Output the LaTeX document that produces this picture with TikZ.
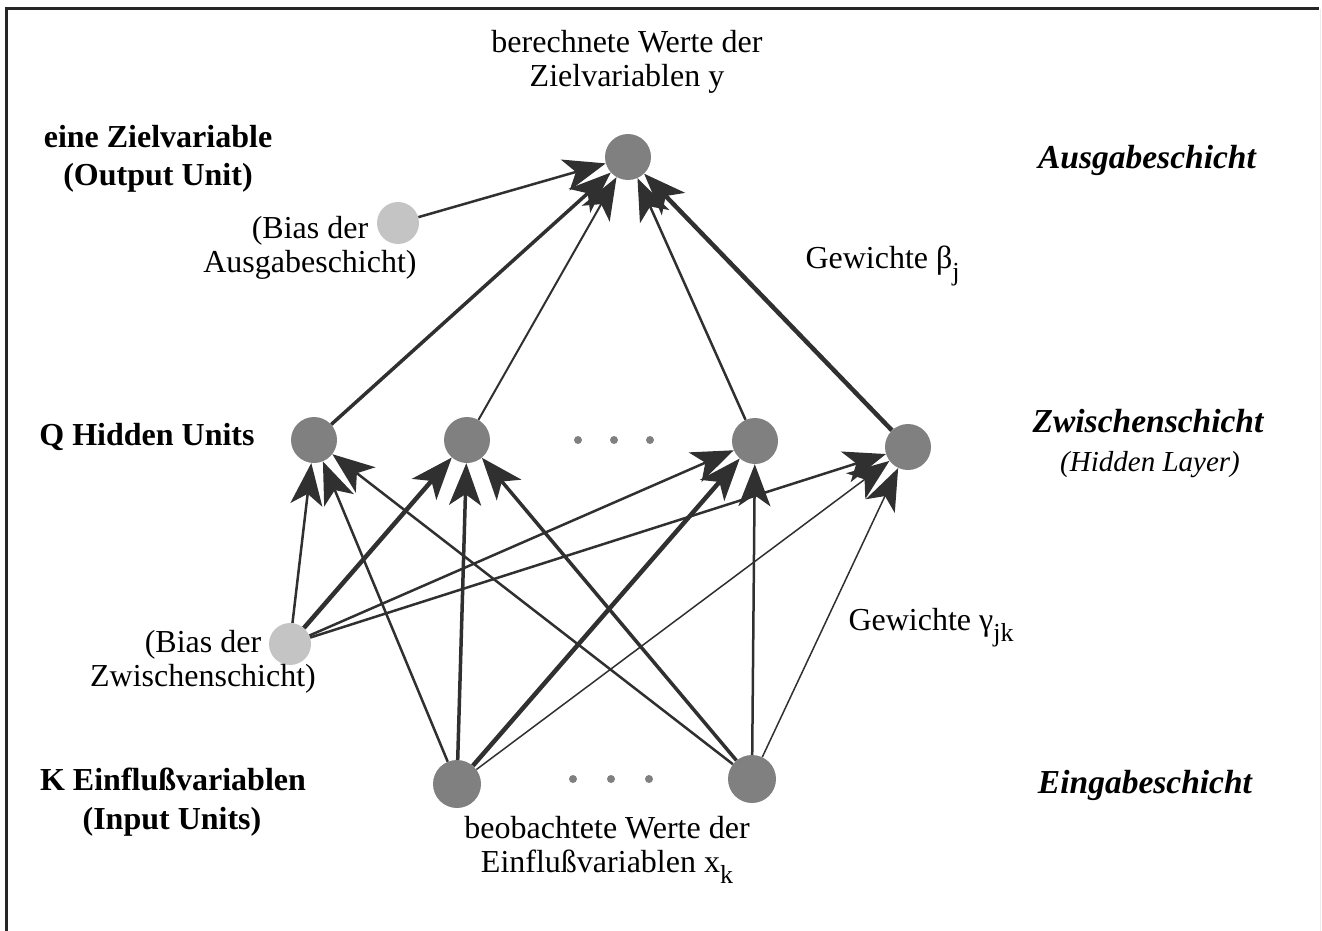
\documentclass[tikz,border=0pt]{standalone}
\usepackage{fontspec}
\setmainfont{Liberation Serif}
\usetikzlibrary{arrows.meta}
\definecolor{nodedark}{HTML}{808080}
\definecolor{nodelight}{HTML}{C4C4C4}
\definecolor{edgecol}{HTML}{303030}
\newcommand{\sub}[1]{\raisebox{-0.35em}{\fontsize{26}{26}\selectfont #1}}
\begin{document}
\begin{tikzpicture}[x=1pt,y=-1pt,
  unit/.style={circle,fill=nodedark,inner sep=0pt,minimum size=46pt},
  bias/.style={circle,fill=nodelight,inner sep=0pt,minimum size=42pt},
  dotn/.style={circle,fill=nodedark,inner sep=0pt,minimum size=8pt},
  lbl/.style={align=center,font=\fontsize{32}{34}\selectfont},
  blbl/.style={align=center,font=\fontsize{32}{38}\selectfont\bfseries},
  bilbl/.style={align=center,font=\fontsize{33.5}{34}\selectfont\bfseries\itshape},
  conn/.style={draw=edgecol,-{Stealth[length=42pt,width=32pt,inset=11pt]}},
  thin1/.style={conn,line width=1.5pt},
  med/.style={conn,line width=2.5pt},
  thk/.style={conn,line width=3.5pt},
  vthk/.style={conn,line width=4.5pt}
]
\useasboundingbox (0,0) rectangle (1322,931);
% frame
\draw[line width=3pt,black!85] (6,931) -- (6,9) -- (1319,9);
\draw[line width=1pt,gray!15] (1320,9) -- (1320,931);

% units
\node[unit] (O) at (628,157) {};
\node[bias] (Bo) at (398,223) {};
\node[unit] (H1) at (314,440) {};
\node[unit] (H2) at (467,440) {};
\node[unit] (H3) at (755,441) {};
\node[unit] (H4) at (908,447) {};
\node[bias] (Bh) at (290,644) {};
\node[unit,minimum size=48pt] (I1) at (457,784) {};
\node[unit,minimum size=48pt] (I2) at (752,779) {};
\node[dotn] (hd1) at (578,440) {};
\node[dotn] (hd2) at (614,440) {};
\node[dotn] (hd3) at (650,440) {};
\node[dotn] (id1) at (573,779) {};
\node[dotn] (id2) at (611,779) {};
\node[dotn] (id3) at (649,779) {};

% hidden -> output
\draw[med] (Bo) -- (O);
\draw[thk] (H1) -- (O);
\draw[thin1,line width=2pt] (H2) -- (O);
\draw[med] (H3) -- (O);
\draw[vthk] (H4) -- (O);

% bias -> hidden
\draw[med] (Bh) -- (H1);
\draw[vthk] (Bh) -- (H2);
\draw[med] (Bh) -- (H3);
\draw[med] (Bh) -- (H4);

% inputs -> hidden
\draw[med] (I1) -- (H1);
\draw[thk] (I1) -- (H2);
\draw[vthk] (I1) -- (H3);
\draw[thin1] (I1) -- (H4);
\draw[med] (I2) -- (H1);
\draw[thk] (I2) -- (H2);
\draw[med] (I2) -- (H3);
\draw[thin1] (I2) -- (H4);

% labels
\node[lbl] (tOut) at (627,62) {berechnete Werte der\\Zielvariablen y};
\node[blbl] (tZiel) at (158,159) {eine Zielvariable\\(Output Unit)};
\node[lbl] (tBo) at (310,248) {(Bias der\\Ausgabeschicht)};
\node[lbl,anchor=west] (tBeta) at (802,266) {Gewichte β\sub{j}};
\node[bilbl] (tAus) at (1147,160) {Ausgabeschicht};
\node[blbl] (tQ) at (147,437) {Q Hidden Units};
\node[bilbl] (tZw) at (1148,421) {Zwischenschicht};
\node[align=center,font=\fontsize{29}{30}\selectfont\itshape] (tHL) at (1150,465) {(Hidden Layer)};
\node[lbl] (tBh) at (203,662) {(Bias der\\Zwischenschicht)};
\node[lbl,anchor=west] (tGam) at (845,628) {Gewichte γ\sub{jk}};
\node[blbl] (tK) at (173,779) {K Einflußvariablen};
\node[blbl] (tIU) at (172,822) {(Input Units)};
\node[bilbl] (tEin) at (1145,785) {Eingabeschicht};
\node[lbl] (tIn) at (607,850) {beobachtete Werte der\\Einflußvariablen x\sub{k}};
\end{tikzpicture}
\end{document}
